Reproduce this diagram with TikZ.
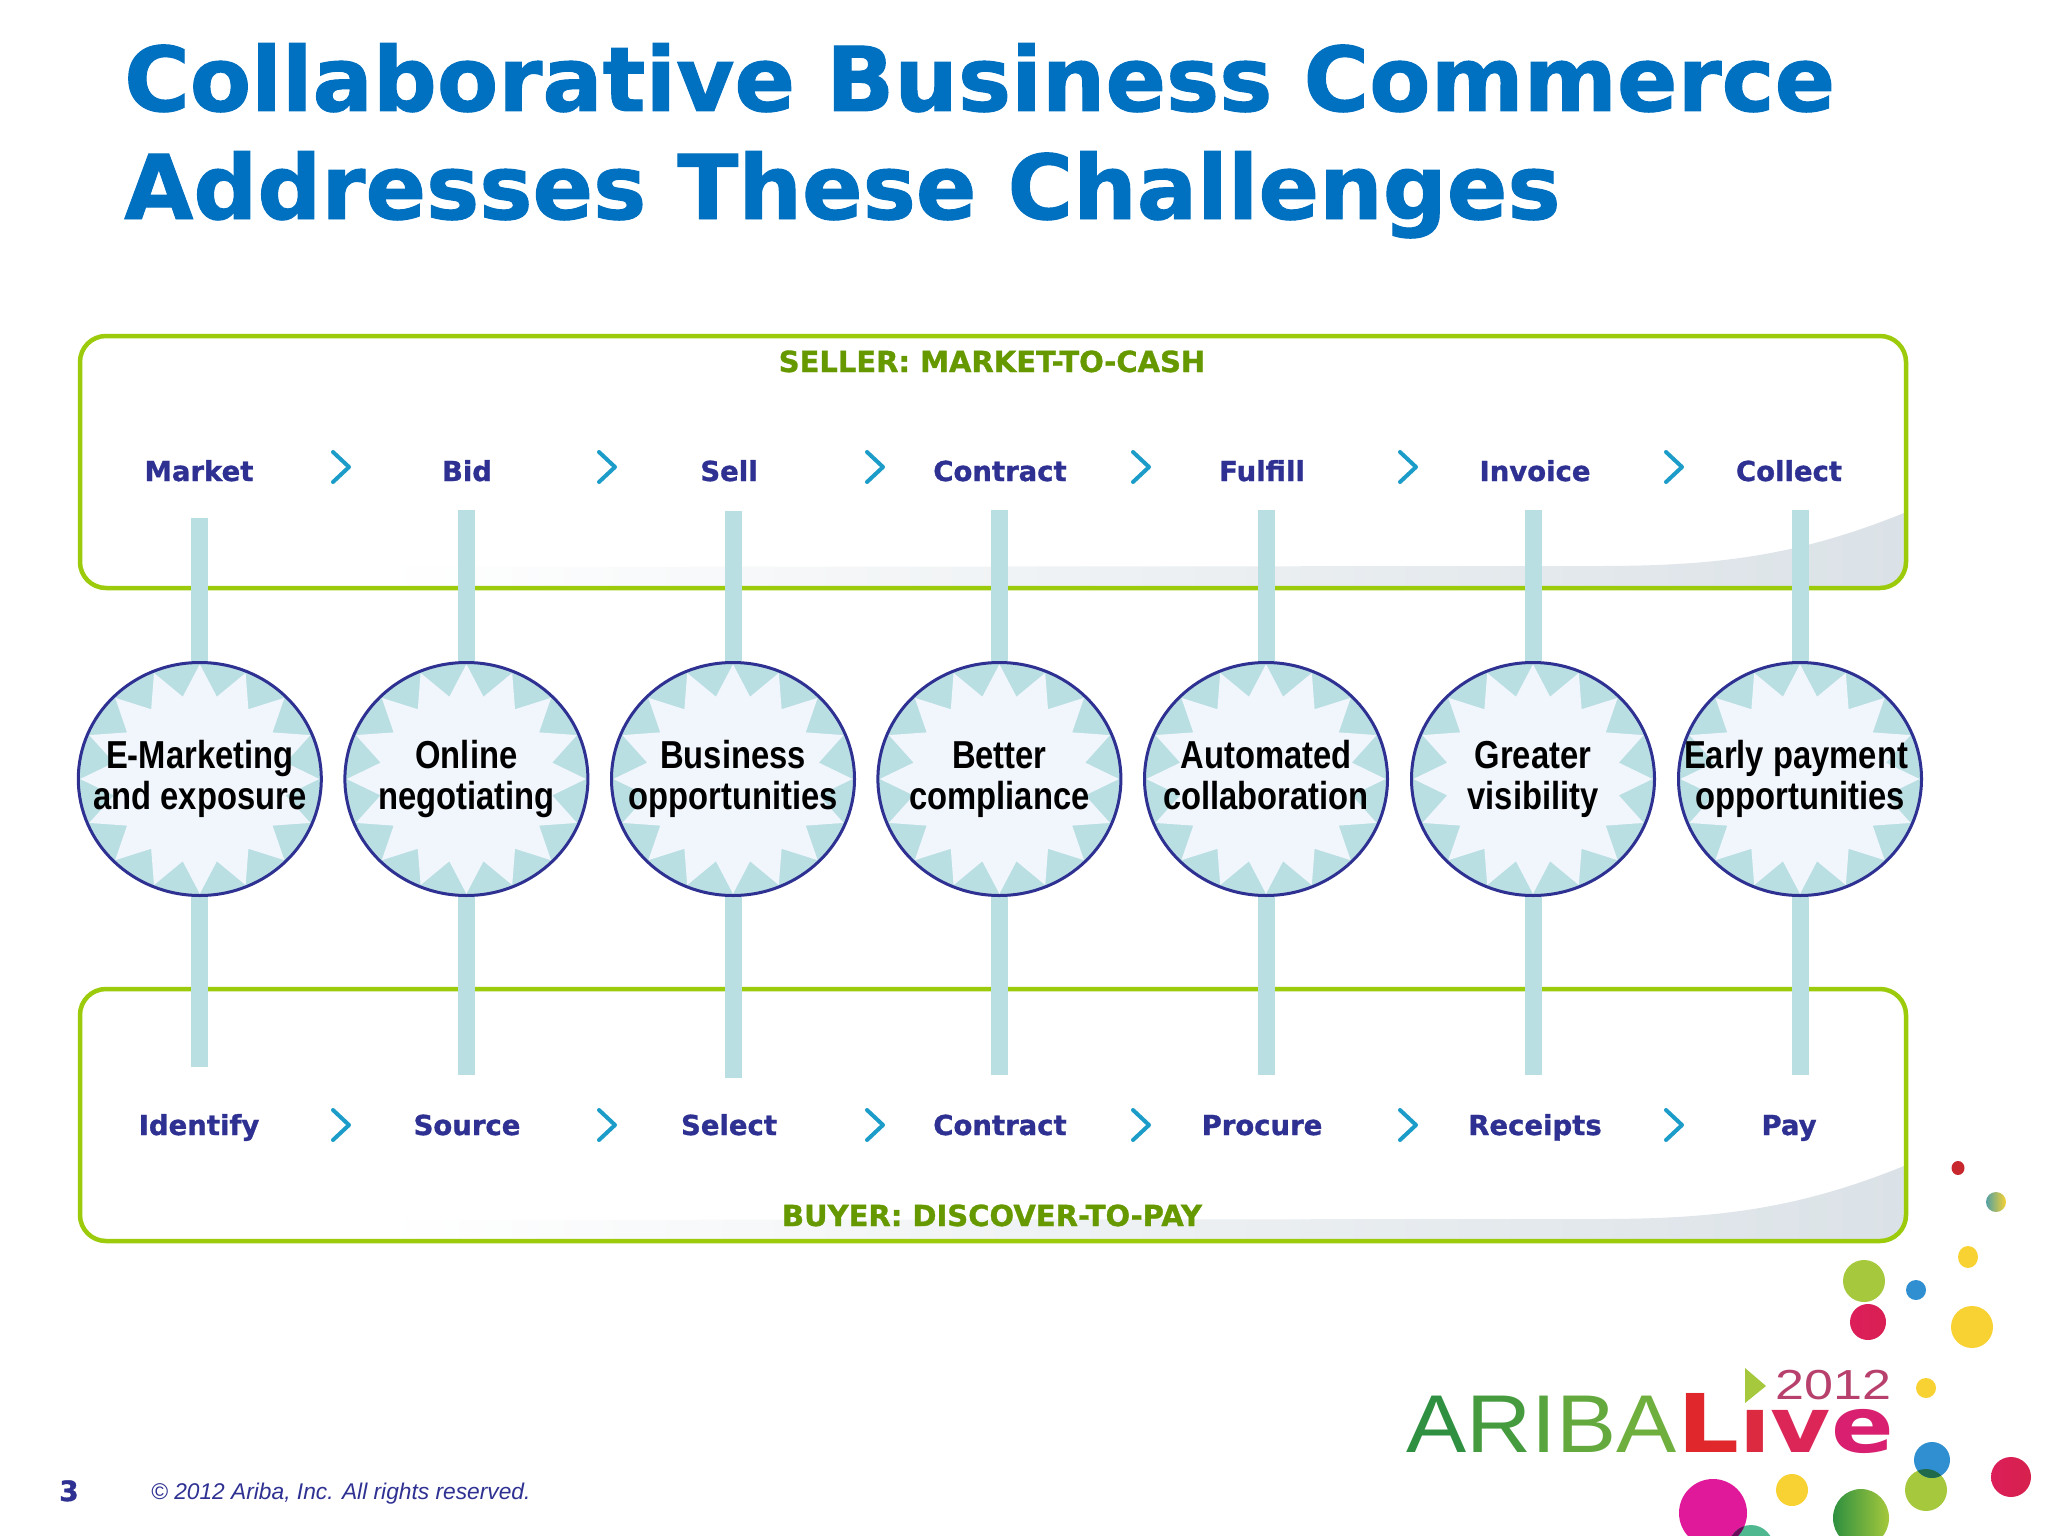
\documentclass[tikz,border=0pt]{standalone}
\usepackage{fontspec}
\usetikzlibrary{shapes.geometric}
\setmainfont{Liberation Sans}
\newfontfamily\headfont[FakeBold=1.1]{DejaVu Sans}
\newfontfamily\circfont[FakeStretch=0.84]{Liberation Sans}
\newfontfamily\logofont[FakeStretch=1.10]{Liberation Sans}
\newfontfamily\yearfont[FakeStretch=1.24]{Liberation Sans}
\newfontfamily\livefont[FakeStretch=1.2]{DejaVu Sans}
\definecolor{titleblue}{HTML}{0070C0}
\definecolor{navy}{HTML}{2E3192}
\definecolor{panelgreen}{HTML}{9CCB0C}
\definecolor{headgreen}{HTML}{669900}
\definecolor{chevblue}{HTML}{1C9CC8}
\definecolor{barteal}{HTML}{BADFE3}
\definecolor{starfill}{HTML}{F1F6FD}
\definecolor{swoosh}{HTML}{DBE2E7}
\definecolor{dotred}{HTML}{C8282D}
\definecolor{dotlime}{HTML}{A5C83C}
\definecolor{dotblue}{HTML}{2F8FD0}
\definecolor{dotcrimson}{HTML}{DC1E5A}
\definecolor{dotyellow}{HTML}{F8D232}
\definecolor{dotmagenta}{HTML}{E0189A}
\definecolor{dotgreen}{HTML}{2E9040}
\definecolor{dotteal}{HTML}{50B890}
\definecolor{dotdark}{HTML}{6A0A5A}
\definecolor{overlapgreen}{HTML}{1F6A4A}
\definecolor{yearcol}{HTML}{B8406C}
\definecolor{liveL}{HTML}{E0282C}
\definecolor{liveI}{HTML}{DC2A40}
\definecolor{liveV}{HTML}{DC2658}
\definecolor{liveE}{HTML}{D81F70}
\pgfdeclarelayer{backdrop}
\pgfdeclarelayer{bars}
\pgfsetlayers{backdrop,bars,main}
\tikzset{
  titletext/.style={anchor=base west,inner sep=0pt,text=titleblue,font=\headfont\bfseries\fontsize{89.4}{89.4}\selectfont},
  headtext/.style={inner sep=0pt,text=headgreen,anchor=base,font=\headfont\bfseries\fontsize{29}{29}\selectfont},
  steptext/.style={inner sep=0pt,text=navy,anchor=base,font=\headfont\bfseries\fontsize{27.5}{27.5}\selectfont},
  panel/.style={draw=panelgreen,line width=4.5pt,rounded corners=26pt,minimum width=1826pt,minimum height=252pt,inner sep=0pt},
  chev/.style={draw=chevblue,line width=4pt,line cap=round,line join=round},
  barline/.style={draw=barteal,line width=17pt},
  burst/.style={ellipse,draw=navy,line width=3pt,fill=barteal,minimum width=243pt,minimum height=233pt,inner sep=0pt,
    path picture={\fill[starfill,shift={(path picture bounding box.center)}] (0:119.5) \foreach \k in {1,...,31}{ -- ({121.5*(mod(\k,2)==1?0.72:0.985)*cos(\k*11.25)},{116.5*(mod(\k,2)==1?0.72:0.985)*sin(\k*11.25)}) } -- cycle;}},
  bursttext/.style={inner sep=0pt,align=center,font=\circfont\bfseries\fontsize{39}{41}\selectfont,execute at begin node=\strut,execute at end node=\strut},
}
\begin{document}
\begin{tikzpicture}[x=1pt,y=-1pt]
\begin{pgfonlayer}{backdrop}
\fill[white] (0,0) rectangle (2048,1536);
\foreach \o in {0,653}{
  \begin{scope}[yshift=-\o pt]
  \shade[left color=white,middle color=swoosh!85!white,right color=swoosh]
    (380,567) -- (1600,566) .. controls (1720,566) and (1800,555) .. (1904,513) -- (1904,564) arc[start angle=0,end angle=90,radius=24] -- (380,588) -- cycle;
  \end{scope}
}
\node[panel] (seller) at (993,462) {};
\node[panel] (buyer) at (993,1115) {};
\end{pgfonlayer}

\node[titletext] (title1) at (124,111) {Collaborative Business Commerce};
\node[titletext] (title2) at (124,219) {Addresses These Challenges};

\node[headtext] (sellerhead) at (992,372) {SELLER: MARKET-TO-CASH};
\node[headtext] (buyerhead) at (992,1226) {BUYER: DISCOVER-TO-PAY};

\foreach \i/\px/\t in {1/199.8/{E-Marketing\\and exposure},2/466.4/{Online\\negotiating},3/733/{Business\\opportunities},4/999.4/{Better\\compliance},5/1266/{Automated\\collaboration},6/1533/{Greater\\visibility},7/1800/{Early payment\hspace*{8pt}\\opportunities}}{
  \node[burst] (c\i) at (\px,779) {};
  \node[bursttext] (t\i) at (\px,781.5) {\t};
}

\foreach \i/\px/\t in {1/199/Market,2/467/Bid,3/729/Sell,4/1000/Contract,5/1262/Fulfill,6/1535/Invoice,7/1789/Collect}{
  \node[steptext] (s\i) at (\px,481) {\t};
}
\foreach \i/\px/\t in {1/199/Identify,2/467/Source,3/729/Select,4/1000/Contract,5/1262/Procure,6/1535/Receipts,7/1789/Pay}{
  \node[steptext] (b\i) at (\px,1135) {\t};
}

\begin{pgfonlayer}{bars}
\foreach \i/\tp/\bt in {1/518/1067,2/510/1075,3/511/1078,4/510/1075,5/510/1075,6/510/1075,7/510/1075}{
  \coordinate (top\i) at (c\i.north |- 0,\tp);
  \coordinate (bot\i) at (c\i.south |- 0,\bt);
  \draw[barline] (c\i.north) -- (top\i);
  \draw[barline] (c\i.south) -- (bot\i);
}
\end{pgfonlayer}

\foreach \px in {349,615,883,1149,1416,1682}{
  \coordinate (ct) at (\px,467);
  \coordinate (cb) at (\px,1125);
  \draw[chev] ([shift={(-16,-15)}]ct) -- (ct) -- ([shift={(-16,15)}]ct);
  \draw[chev] ([shift={(-16,-15)}]cb) -- (cb) -- ([shift={(-16,15)}]cb);
}

\node[anchor=base,inner sep=0pt,text=navy,font=\headfont\bfseries\fontsize{28}{28}\selectfont] (pagenum) at (69,1501) {3};
\node[anchor=base west,inner sep=0pt,text=navy,font=\itshape\fontsize{22.75}{22.75}\selectfont] (copyright) at (151,1499) {© 2012 Ariba, Inc. All rights reserved.};

% confetti dots
\begin{scope}
\clip (0,0) rectangle (2048,1536);
\fill[dotred] (1958,1168) circle[x radius=6.5,y radius=7];
\shade[left color=dotblue!70!dotlime,right color=dotyellow] (1996,1202) circle[x radius=10,y radius=10];
\fill[dotyellow] (1968,1257) circle[x radius=10,y radius=11];
\fill[dotlime] (1864,1281) circle[x radius=21,y radius=21];
\fill[dotblue] (1916,1290) circle[x radius=10,y radius=10];
\shade[left color=dotcrimson,right color=dotcrimson!85!dotred] (1868,1322) circle[x radius=18,y radius=18];
\fill[dotyellow] (1972,1327) circle[x radius=21,y radius=21];
\fill[dotyellow] (1926,1388) circle[x radius=10,y radius=10];
\fill[dotlime] (1926,1490) circle[x radius=21,y radius=21];
\fill[dotblue] (1932,1460) circle[x radius=18,y radius=18];
\begin{scope}
\clip (1926,1490) circle[x radius=21,y radius=21];
\fill[overlapgreen] (1932,1460) circle[x radius=18,y radius=18];
\end{scope}
\shade[left color=dotcrimson,right color=dotcrimson!70!dotred] (2011,1477) circle[x radius=20,y radius=20];
\fill[dotyellow] (1792,1490) circle[x radius=16,y radius=16];
\fill[dotmagenta] (1713,1513) circle[x radius=34,y radius=34];
\fill[dotteal] (1751,1549) circle[x radius=23,y radius=24];
\begin{scope}
\clip (1713,1513) circle[x radius=34,y radius=34];
\fill[dotdark] (1751,1549) circle[x radius=23,y radius=24];
\end{scope}
\shade[left color=dotgreen,right color=dotlime] (1861,1518) circle[x radius=28,y radius=29];
\end{scope}

% logo
\fill[dotlime] (1745,1368) -- (1766,1386) -- (1745,1403) -- cycle;
\node[anchor=base west,inner sep=0pt,font=\logofont\fontsize{82}{82}\selectfont] (ariba) at (1406,1452)
  {\textcolor{dotgreen}{A}\textcolor{dotgreen!80!dotlime}{R}\textcolor{dotgreen!65!dotlime}{I}\textcolor{dotgreen!55!dotlime}{B}\textcolor{dotgreen!45!dotlime}{A}};
\node[anchor=base west,inner sep=0pt,font=\livefont\bfseries\fontsize{81}{81}\selectfont] (live) at (1677,1452)
  {\textcolor{liveL}{L}\fontsize{77}{77}\selectfont\textcolor{liveI}{ı}\textcolor{liveV}{v}\textcolor{liveE}{e}};
\node[anchor=base west,inner sep=0pt,text=yearcol,font=\yearfont\fontsize{42}{42}\selectfont] (year) at (1775,1399) {2012};
\end{tikzpicture}
\end{document}
